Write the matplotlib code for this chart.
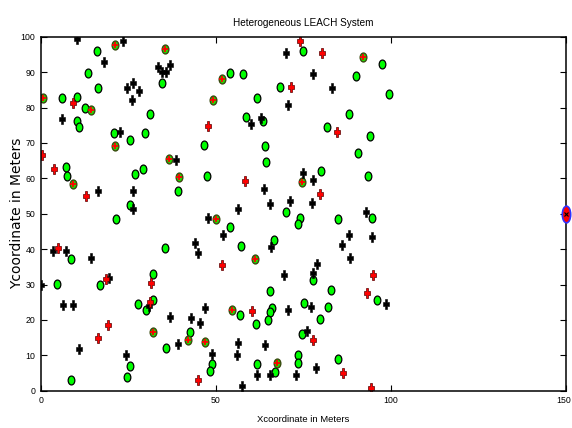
import matplotlib
matplotlib.use("Agg")
import matplotlib.pyplot as plt
from matplotlib.markers import MarkerStyle
from matplotlib.transforms import Affine2D, ScaledTranslation

# ---------------- data ----------------
normal_x = [16.0, 13.4, 16.5, 6.0, 10.3, 12.7, 10.3, 10.8, 31.3, 20.8, 25.6, 29.9, 7.2, 7.4, 27.0, 29.2, 25.6, 21.6,
            34.7, 54.2, 57.9, 68.4, 61.9, 58.5, 63.6, 46.6, 64.1, 64.3, 47.4, 39.1,
            75.0, 97.5, 90.1, 99.6, 88.1, 81.7, 94.0, 90.7, 80.0, 93.6, 70.1, 74.1, 94.6, 84.8,
            8.6, 4.6, 16.8, 25.4, 24.6, 8.7, 27.7, 30.1, 32.1, 32.1,
            54.0, 35.4, 57.1, 66.6, 65.5, 66.2, 65.4, 64.8, 56.9, 61.4, 42.6, 35.9, 49.0, 48.3, 61.9, 66.8,
            73.4, 77.9, 82.9, 96.1, 75.1, 82.1, 79.8, 74.5, 73.6, 73.5, 84.8]
normal_y = [96.0, 89.9, 85.6, 82.8, 83.1, 79.8, 76.2, 74.6, 78.1, 72.8, 70.9, 72.8, 63.1, 60.8, 61.2, 62.7, 52.4, 48.4,
            86.8, 89.7, 89.4, 85.9, 82.8, 77.3, 76.3, 69.5, 69.2, 64.6, 60.8, 56.5,
            96.0, 92.2, 88.9, 83.9, 78.1, 74.6, 72.1, 67.1, 62.0, 60.6, 50.5, 48.8, 48.8, 48.6,
            37.1, 30.2, 29.9, 7.0, 3.9, 3.0, 24.6, 22.8, 25.5, 32.9,
            46.2, 40.2, 40.8, 42.7, 28.2, 23.5, 22.3, 20.0, 21.4, 18.8, 16.7, 12.0, 7.5, 5.6, 7.5, 5.4,
            47.0, 31.2, 28.4, 25.5, 24.9, 23.7, 20.4, 16.0, 10.1, 7.8, 9.1]

dead_x = [10.3, 23.5, 18.1, 33.5, 34.7, 35.8, 37.0, 24.6, 26.5, 28.0, 26.1, 6.1, 22.7, 16.3, 26.5, 26.5,
          60.2, 62.8, 38.5, 63.8, 65.4, 56.3, 47.7,
          70.0, 77.8, 83.2, 70.7, 75.0, 77.9, 71.1, 77.6, 92.9,
          3.4, 7.2, 14.3, 0.0, 19.6, 6.3, 9.3, 10.8, 24.4, 31.0,
          52.1, 44.0, 44.9, 65.9, 36.8, 43.0, 46.8, 45.4, 39.1, 49.0, 56.0, 56.3, 57.6, 64.1, 61.9, 65.5,
          88.1, 86.2, 94.6, 88.4, 78.9, 69.5, 77.8, 98.7, 77.2, 70.7, 76.0, 78.6, 72.9]
dead_y = [99.5, 98.9, 92.8, 91.5, 90.0, 90.1, 92.0, 85.6, 86.8, 84.7, 82.2, 76.8, 73.0, 56.3, 56.3, 51.2,
          75.3, 77.0, 65.3, 57.0, 52.8, 51.2, 48.8,
          95.3, 89.4, 85.4, 80.6, 61.5, 59.4, 53.5, 52.9, 50.5,
          39.6, 39.4, 37.4, 29.9, 31.9, 24.2, 24.2, 11.7, 10.1, 23.8,
          44.1, 41.6, 38.8, 40.7, 20.8, 20.6, 23.5, 19.2, 13.2, 10.3, 10.1, 13.4, 1.4, 13.0, 4.4, 4.4,
          43.9, 41.1, 43.4, 37.4, 35.9, 32.7, 33.3, 24.6, 23.7, 22.8, 16.9, 6.3, 4.4]

adv_dead_x = [9.2, 0.3, 3.8, 13.0, 47.7, 58.3, 74.0, 80.3, 71.4, 84.5, 79.8, 5.0, 18.7, 16.5, 19.2, 31.3, 31.5,
              51.7, 60.3, 45.0, 94.9, 93.1, 77.8, 86.4, 94.4]
adv_dead_y = [81.4, 66.7, 62.7, 54.9, 74.9, 59.2, 98.9, 95.3, 85.9, 73.0, 55.7, 40.2, 31.5, 14.8, 18.6, 25.2, 30.5,
              35.4, 22.5, 3.0, 32.7, 27.7, 14.3, 5.0, 0.9]

adv_x = [21.1, 0.6, 14.4, 21.3, 9.1, 35.4, 51.9, 49.2, 36.6, 39.6, 50.2, 92.1, 74.6, 32.1, 61.1, 54.7, 42.1, 46.8, 67.6]
adv_y = [97.7, 82.6, 79.3, 69.0, 58.4, 96.5, 88.0, 82.2, 65.5, 60.4, 48.4, 94.4, 59.0, 16.7, 37.3, 22.7, 14.3, 13.9, 7.7]

sink_x = [150]
sink_y = [50]

x_ticks = [0, 50, 100, 150]
y_ticks = [0, 10, 20, 30, 40, 50, 60, 70, 80, 90, 100]

# ---------------- fonts ----------------
narrow = ['Liberation Sans Narrow', 'Liberation Sans', 'DejaVu Sans']
plt.rcParams['font.family'] = narrow

# ---------------- figure ----------------
fig = plt.figure(figsize=(5.72, 4.28), dpi=100)
ax = fig.add_axes([0.0712, 0.0871, 0.918, 0.827])

circ = MarkerStyle('o', transform=Affine2D().scale(0.75, 1.0))
plus = MarkerStyle('P', transform=Affine2D().scale(0.72, 1.0))
sink_m = MarkerStyle('o', transform=Affine2D().scale(0.5, 1.0))

ax.plot(normal_x, normal_y, linestyle='none', marker=circ, markersize=6.4,
        markerfacecolor='#00ff00', markeredgecolor='black', markeredgewidth=0.9)
ax.plot(adv_x, adv_y, linestyle='none', marker=circ, markersize=6.4,
        markerfacecolor='#22dd00', markeredgecolor='#3a4a10', markeredgewidth=1.0)
ax.plot(adv_x, adv_y, linestyle='none', marker='+', markersize=4,
        color='red', markeredgewidth=1.3)
ax.plot(dead_x, dead_y, linestyle='none', marker=plus, markersize=6.8,
        markerfacecolor='black', markeredgecolor='black', markeredgewidth=0.4)
ax.plot(adv_dead_x, adv_dead_y, linestyle='none', marker=plus, markersize=6.8,
        markerfacecolor='red', markeredgecolor='#550000', markeredgewidth=0.5)
ax.plot(sink_x, sink_y, linestyle='none', marker=sink_m, markersize=12,
        markerfacecolor='red', markeredgecolor='#3030ff', markeredgewidth=1.2, clip_on=False, zorder=5)
ax.plot(sink_x, sink_y, linestyle='none', marker='x', markersize=3.5,
        color='black', markeredgewidth=0.8, clip_on=False, zorder=6)

ax.set_xlim(0, 150)
ax.set_ylim(0, 100)
ax.set_xticks(x_ticks)
ax.set_yticks(y_ticks)
ax.tick_params(direction='in', top=True, right=True, length=4, width=0.8,
               labelsize=6.3, pad=4)
for s in ax.spines.values():
    s.set_linewidth(1.1)

fig.canvas.draw()
last = ax.get_xticklabels()[-1]
last.set_transform(last.get_transform() + ScaledTranslation(-2.5 / 100, 0, fig.dpi_scale_trans))

ax.set_title('Heterogeneous LEACH System', fontsize=7.2, pad=8)
ax.set_xlabel('Xcoordinate in Meters', fontsize=6.8, labelpad=7)
ax.set_ylabel('Ycoordinate in Meters', fontsize=10, family=['DejaVu Sans'])
ax.yaxis.set_label_coords(-0.031, 0.5)

fig.savefig('out.png', dpi=100)
